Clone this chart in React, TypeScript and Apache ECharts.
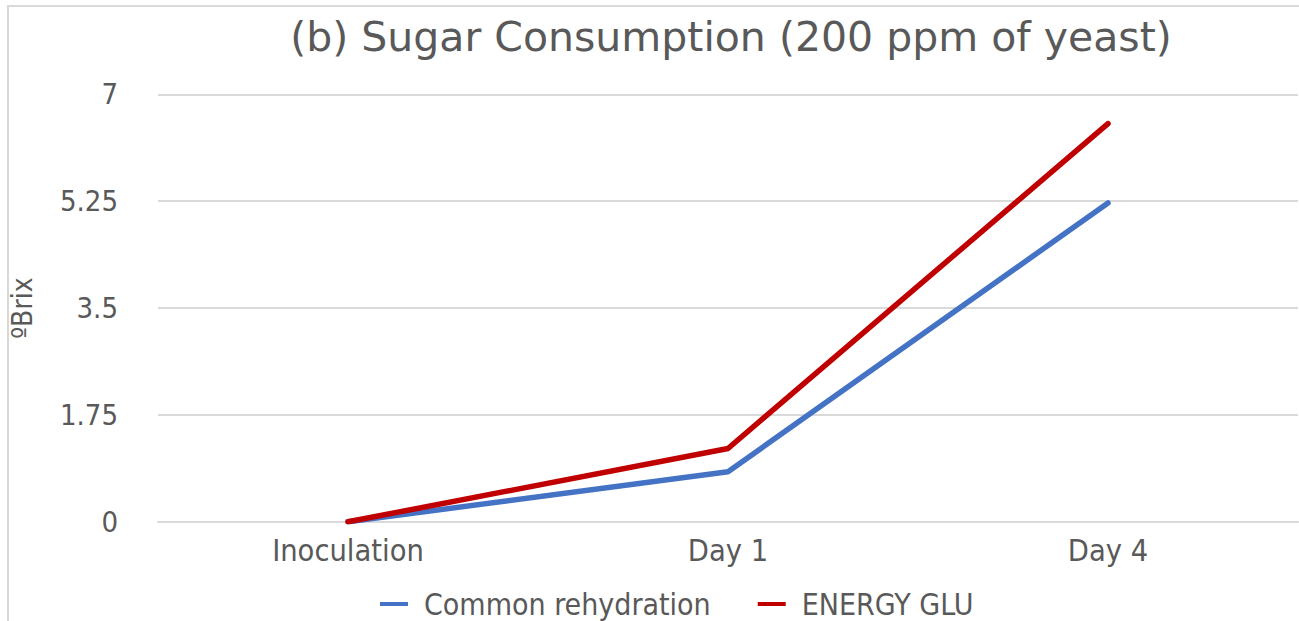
import React, { useEffect, useRef } from "react";
import * as echarts from "echarts";

const categories = ["Inoculation", "Day 1", "Day 4"];
const commonRehydration = [0, 0.82, 5.22];
const energyGlu = [0, 1.2, 6.52];
const seriesNames = ["Common rehydration", "ENERGY GLU"];
const titleText = "(b) Sugar Consumption (200 ppm of yeast)";
const yAxisName = "ºBrix";

const FONT = "DejaVu Sans Condensed";
const TXT = "#595959";

export default function App() {
  const ref = useRef<HTMLDivElement>(null);
  useEffect(() => {
    const chart = echarts.init(ref.current!, null, { renderer: "svg" });
    chart.setOption({
      animation: false,
      backgroundColor: "#ffffff",
      title: {
        text: titleText,
        left: 726,
        textAlign: "center",
        top: 11,
        textStyle: { fontFamily: "DejaVu Sans", fontSize: 41, fontWeight: "normal", color: TXT },
      },
      graphic: [
        {
          type: "rect",
          shape: { x: 8, y: 6, width: 1400, height: 700 },
          style: { fill: "none", stroke: "#d9d9d9", lineWidth: 2 },
          silent: true,
          z: -1,
        },
      ],
      grid: { left: 158, right: 1, top: 94.3, bottom: 621 - 521.8, containLabel: false },
      legend: {
        data: seriesNames,
        top: 589,
        left: 380,
        padding: 0,
        itemWidth: 28,
        itemHeight: 4,
        itemGap: 47,
        icon: "rect",
        textStyle: { fontFamily: FONT, fontSize: 30, color: TXT, padding: [0, 0, 0, 11] },
      },
      xAxis: {
        type: "category",
        data: categories,
        boundaryGap: true,
        axisLine: { show: true, lineStyle: { color: "#d9d9d9", width: 2 } },
        axisTick: { show: false },
        axisLabel: { fontFamily: FONT, fontSize: 30.5, color: TXT, margin: 13 },
        splitLine: { show: false },
      },
      yAxis: {
        type: "value",
        min: 0,
        max: 7,
        interval: 1.75,
        name: yAxisName,
        nameLocation: "middle",
        nameGap: 122,
        nameRotate: 90,
        nameTextStyle: { fontFamily: FONT, fontSize: 28, color: TXT },
        axisLine: { show: false },
        axisTick: { show: false },
        axisLabel: { fontFamily: FONT, fontSize: 29, color: TXT, margin: 40 },
        splitLine: { show: true, lineStyle: { color: "#d9d9d9", width: 2 } },
      },
      series: [
        {
          name: seriesNames[0],
          type: "line",
          data: commonRehydration,
          symbol: "none",
          lineStyle: { color: "#4472C4", width: 5.5, cap: "round", join: "round" },
          itemStyle: { color: "#4472C4" },
        },
        {
          name: seriesNames[1],
          type: "line",
          data: energyGlu,
          symbol: "none",
          lineStyle: { color: "#C00000", width: 5.5, cap: "round", join: "round" },
          itemStyle: { color: "#C00000" },
        },
      ],
    });
    return () => chart.dispose();
  }, []);
  return (
    <div
      ref={ref}
      style={{ position: "fixed", left: 0, top: 0, width: 1299, height: 621, background: "#fff" }}
    />
  );
}
